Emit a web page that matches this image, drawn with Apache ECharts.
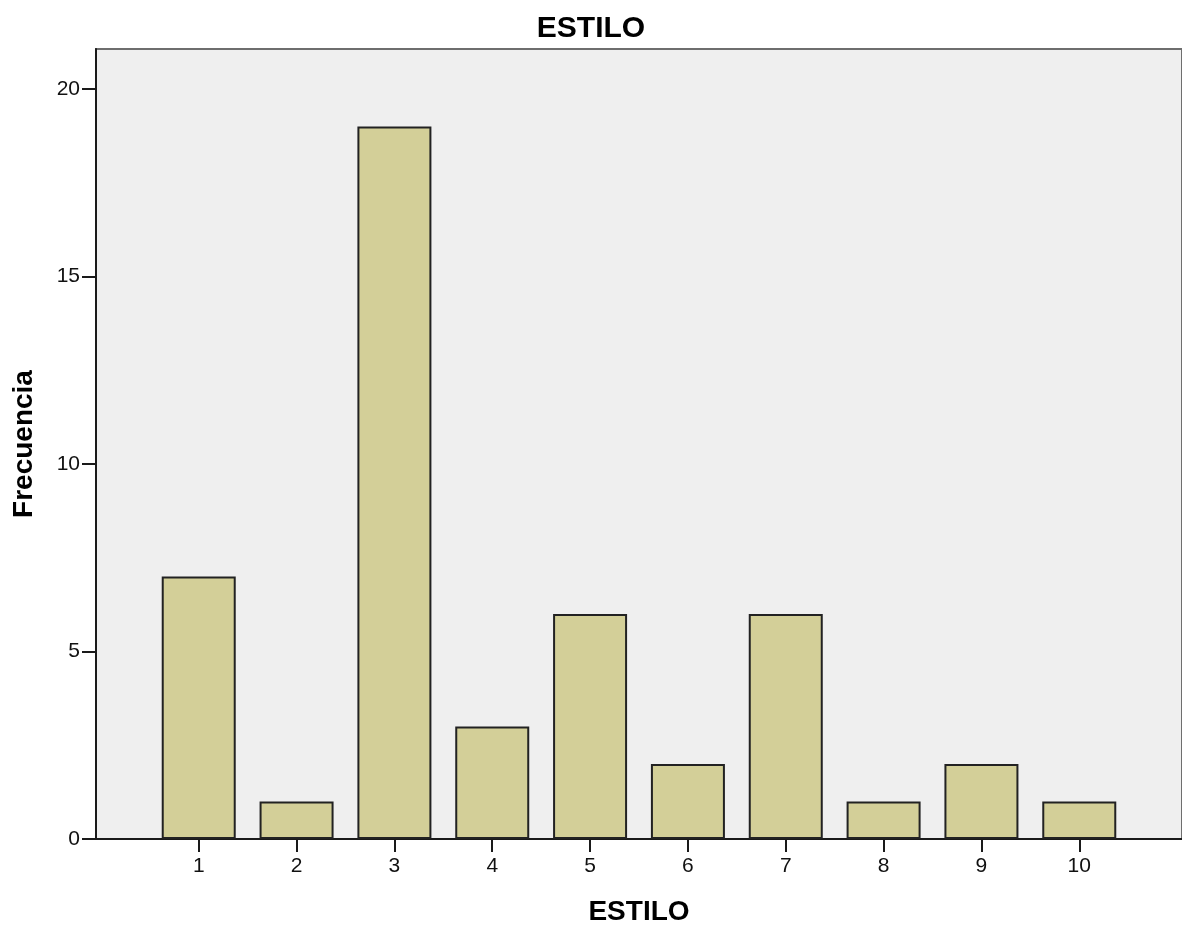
<!DOCTYPE html>
<html>
<head>
<meta charset="utf-8">
<script src="https://cdn.jsdelivr.net/npm/echarts@6/dist/echarts.min.js"></script>
<style>
html,body{margin:0;padding:0;background:#fff;}
#chart{width:1182px;height:927px;}
</style>
</head>
<body>
<div id="chart"></div>
<script>
const chartTitle = 'ESTILO';
const xAxisTitle = 'ESTILO';
const yAxisTitle = 'Frecuencia';
const categories = [1, 2, 3, 4, 5, 6, 7, 8, 9, 10];
const frequencies = [7, 1, 19, 3, 6, 2, 6, 1, 2, 1];
const yTicks = [0, 5, 10, 15, 20];

const FONT = '"Liberation Sans", Arial, sans-serif';
const chart = echarts.init(document.getElementById('chart'));
chart.setOption({
  animation: false,
  backgroundColor: '#ffffff',
  title: {
    text: chartTitle,
    left: 'center',
    top: 9,
    textStyle: { fontFamily: FONT, fontSize: 30, fontWeight: 'bold', color: '#000' }
  },
  grid: {
    left: 96, right: 0, top: 49, bottom: 88,
    outerBoundsMode: 'none',
    containLabel: false,
    show: true,
    backgroundColor: '#efefef',
    borderColor: '#6e6e6e',
    borderWidth: 2
  },
  xAxis: {
    type: 'value',
    min: -0.05,
    max: 11.05,
    name: xAxisTitle,
    nameLocation: 'middle',
    nameGap: 59,
    nameTextStyle: { fontFamily: FONT, fontSize: 28, fontWeight: 'bold', color: '#000' },
    splitLine: { show: false },
    axisLine: { show: true, onZero: false, lineStyle: { color: '#1a1a1a', width: 2 } },
    axisTick: { show: true, length: 13, lineStyle: { color: '#1a1a1a', width: 2 }, customValues: categories },
    axisLabel: { fontFamily: FONT, fontSize: 21, color: '#111', margin: 17, customValues: categories }
  },
  yAxis: {
    type: 'value',
    min: 0,
    max: 21.07,
    name: yAxisTitle,
    nameLocation: 'middle',
    nameRotate: 90,
    nameGap: 58,
    nameTextStyle: { fontFamily: FONT, fontSize: 28, fontWeight: 'bold', color: '#000' },
    splitLine: { show: false },
    axisLine: { show: true, onZero: false, lineStyle: { color: '#1a1a1a', width: 2 } },
    axisTick: { show: true, length: 14, lineStyle: { color: '#1a1a1a', width: 2 }, customValues: yTicks },
    axisLabel: { fontFamily: FONT, fontSize: 21, color: '#111', margin: 16, customValues: yTicks }
  },
  series: [{
    type: 'bar',
    barWidth: 74,
    data: categories.map((c, i) => [c, frequencies[i]]),
    itemStyle: { color: '#d3cf98', borderColor: '#222', borderWidth: 2 }
  }]
});
</script>
</body>
</html>
